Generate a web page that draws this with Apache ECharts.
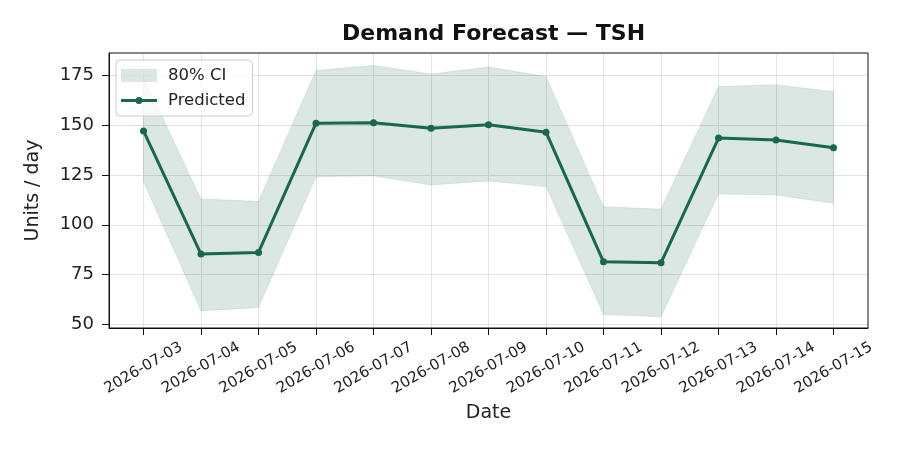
<!DOCTYPE html>
<html>
<head>
<meta charset="utf-8">
<script src="https://cdn.jsdelivr.net/npm/echarts@6/dist/echarts.min.js"></script>
<style>
  html, body { margin: 0; padding: 0; background: #fff; }
  #chart { width: 900px; height: 450px; }
</style>
</head>
<body>
<div id="chart"></div>
<script>
// 数据
var dates = ['2026-07-03', '2026-07-04', '2026-07-05', '2026-07-06', '2026-07-07', '2026-07-08',
    '2026-07-09', '2026-07-10', '2026-07-11', '2026-07-12', '2026-07-13', '2026-07-14', '2026-07-15'];
var predicted = [147.2, 85.3, 86.1, 151.1, 151.3, 148.6, 150.3, 146.6, 81.4, 80.9, 143.6, 142.7, 138.8];
var ciLower = [121.5, 56.7, 58.4, 124.2, 124.6, 120.0, 122.0, 119.2, 54.9, 53.7, 115.5, 115.0, 110.8];
var ciUpper = [174.5, 113.0, 111.8, 177.6, 180.1, 175.9, 179.3, 174.6, 109.1, 107.9, 169.6, 170.4, 167.0];
var yTicks = [50, 75, 100, 125, 150, 175];

var font = 'DejaVu Sans';
var lineColor = '#17694a';
var bandColor = 'rgba(23,105,74,0.16)';
// 图例里的线+小圆点
var lineIcon = 'path://M0,0L0.1,0L0,0.1Z M36,13L35.9,13L36,12.9Z ' +
    'M0,5L15,5L15,8L0,8Z M21,5L36,5L36,8L21,8Z ' +
    'M14.5,6.5A3.5,3.5 0 1 1 21.5,6.5A3.5,3.5 0 1 1 14.5,6.5Z';

var xIdx = dates.map(function (d, i) { return i; });
var bandData = ciUpper.map(function (v, i) { return [i, ciLower[i], v]; });
var predData = predicted.map(function (v, i) { return [i, v]; });

// 置信区间多边形
function renderBand(params, api) {
    if (params.dataIndex !== 0) return null;
    var top = [], bottom = [];
    for (var i = 0; i < bandData.length; i++) {
        top.push(api.coord([bandData[i][0], bandData[i][2]]));
        bottom.unshift(api.coord([bandData[i][0], bandData[i][1]]));
    }
    return {
        type: 'polygon',
        shape: {points: top.concat(bottom)},
        style: {fill: bandColor, stroke: 'rgba(23,105,74,0.10)', lineWidth: 1}
    };
}

var option = {
    animation: false,
    title: {
        text: 'Demand Forecast — TSH',
        left: 337,
        top: 18,
        textStyle: {fontFamily: font, fontSize: 22, fontWeight: 'bold', color: '#111'}
    },
    grid: {left: 109, right: 32, top: 53, bottom: 122},
    legend: {
        left: 116,
        top: 60,
        orient: 'vertical',
        itemGap: 8,
        itemWidth: 36,
        itemHeight: 13,
        padding: [7, 7, 7, 5],
        borderColor: '#cccccc',
        borderWidth: 1,
        borderRadius: 4,
        backgroundColor: 'rgba(255,255,255,0.8)',
        textStyle: {fontFamily: font, fontSize: 16.5, color: '#222', padding: [0, 0, 0, 6]},
        data: [
            {name: '80% CI', icon: 'rect', itemStyle: {color: bandColor}},
            {name: 'Predicted', icon: lineIcon, itemStyle: {color: lineColor}}
        ]
    },
    xAxis: {
        type: 'value',
        min: -0.6,
        max: 12.6,
        name: 'Date',
        nameLocation: 'middle',
        nameGap: 76,
        nameTextStyle: {fontFamily: font, fontSize: 19, color: '#222'},
        axisLine: {show: true, onZero: false, lineStyle: {color: '#111', width: 1}},
        axisTick: {show: true, length: 7, customValues: xIdx, lineStyle: {color: '#111'}},
        axisLabel: {
            customValues: xIdx,
            rotate: 30,
            align: 'center',
            verticalAlign: 'middle',
            margin: 40,
            fontFamily: font,
            fontSize: 15,
            color: '#222',
            formatter: function (v) { return dates[Math.round(v)]; }
        },
        splitLine: {show: true, lineStyle: {color: '#e3e3e3', width: 1}}
    },
    yAxis: {
        type: 'value',
        min: 48.1,
        max: 186.4,
        name: 'Units / day',
        nameLocation: 'middle',
        nameGap: 66,
        nameTextStyle: {fontFamily: font, fontSize: 19, color: '#222'},
        axisLine: {show: true, onZero: false, lineStyle: {color: '#111', width: 1}},
        axisTick: {show: true, length: 7, customValues: yTicks, lineStyle: {color: '#111'}},
        axisLabel: {customValues: yTicks, margin: 15, fontFamily: font, fontSize: 18, color: '#222'},
        splitLine: {show: true, lineStyle: {color: '#e3e3e3', width: 1}}
    },
    series: [
        {
            name: '80% CI',
            type: 'custom',
            data: bandData,
            renderItem: renderBand,
            itemStyle: {color: bandColor},
            encode: {x: 0, y: [1, 2]},
            silent: true,
            z: 1
        },
        {
            name: 'Predicted',
            type: 'line',
            data: predData,
            symbol: 'circle',
            symbolSize: 7,
            itemStyle: {color: lineColor},
            lineStyle: {color: lineColor, width: 3},
            z: 3
        }
    ]
};

var myChart = echarts.init(document.getElementById('chart'));
myChart.setOption(option);

// 外框（上、右边线）
myChart.setOption({
    graphic: [{
        type: 'rect',
        shape: {x: 109, y: 53, width: 759, height: 275},
        style: {fill: 'none', stroke: '#111', lineWidth: 1},
        silent: true,
        z: 10
    }]
});
</script>
</body>
</html>
